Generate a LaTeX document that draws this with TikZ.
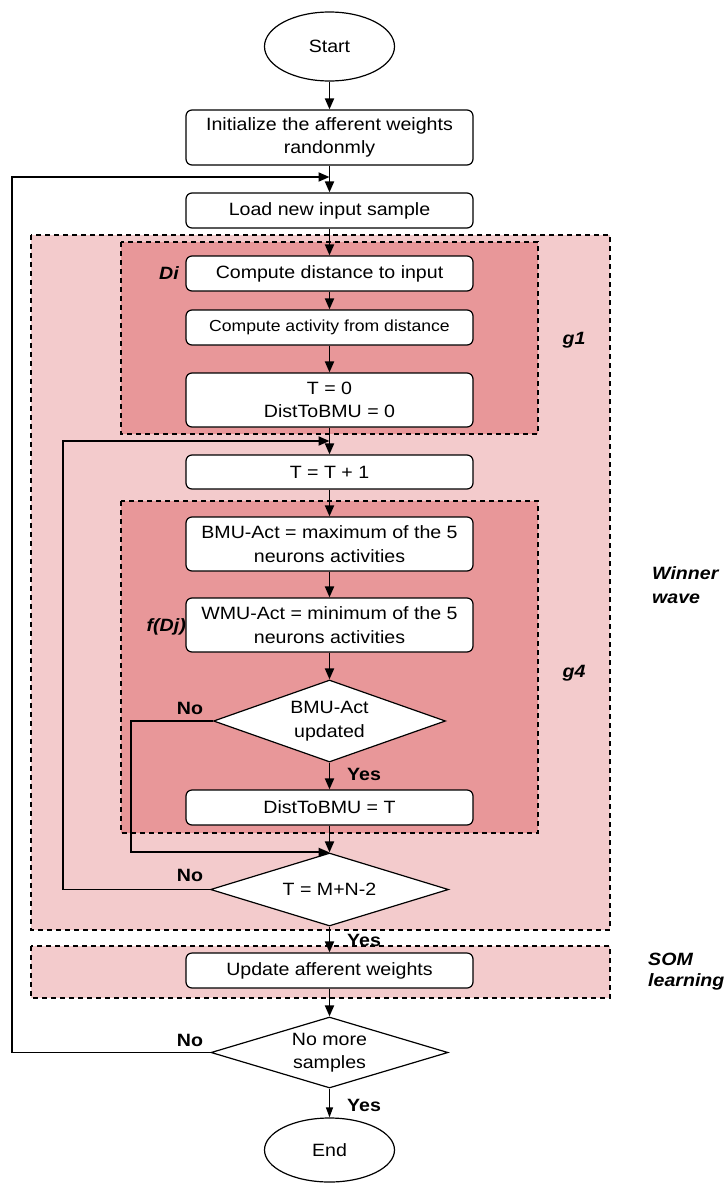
\documentclass[tikz,border=0pt]{standalone}
\usepackage{fontspec}
\setmainfont{Liberation Sans}[FakeStretch=1.1]
\usetikzlibrary{shapes.geometric,arrows.meta}
\definecolor{outerpink}{RGB}{243,203,204}
\definecolor{innerpink}{RGB}{232,151,153}
\tikzset{
  base/.style={font=\fontsize{17.8}{23.5}\selectfont, align=center},
  box/.style={base, draw, fill=white, rounded corners=6pt, line width=1.2pt,
    minimum width=287pt, inner sep=0pt},
  decision/.style={base, draw, fill=white, diamond, line width=1.2pt, inner sep=0pt},
  terminal/.style={base, draw, fill=white, ellipse, line width=1.2pt, inner sep=0pt},
  region/.style={dashed, line width=1.2pt, dash pattern=on 5pt off 4pt},
  arr/.style={line width=1.9pt, -{Triangle[length=11pt,width=9pt]}},
  thinarr/.style={line width=1.2pt, -{Triangle[length=10pt,width=7pt]}},
  lbl/.style={font=\fontsize{17.8}{23.5}\selectfont\bfseries\itshape, align=left, inner sep=0pt},
  yn/.style={font=\fontsize{17.8}{23.5}\selectfont\bfseries, inner sep=0pt},
}
\begin{document}
\begin{tikzpicture}[x=1pt, y=-1pt]
\useasboundingbox (0,0) rectangle (726,1183);
% regions
\draw[region, fill=outerpink] (31,235) rectangle (610,930);
\draw[region, fill=innerpink] (121,242) rectangle (538,434);
\draw[region, fill=innerpink] (121,501) rectangle (538,833);
\draw[region, fill=outerpink] (31,946) rectangle (610,998);

% nodes
\node[terminal, minimum width=130pt, minimum height=69pt] (start) at (329.5,46.5) {Start};
\node[box, minimum height=55pt] (init) at (329.5,137.5) {Initialize the afferent weights\\randonmly};
\node[box, minimum height=35pt] (load) at (329.5,210.5) {Load new input sample};
\node[box, minimum height=35pt] (cd) at (329.5,273.5) {Compute distance to input};
\node[box, minimum height=35pt, font=\fontsize{16}{20}\selectfont] (ca) at (329.5,327.5) {Compute activity from distance};
\node[box, minimum height=54pt] (t0) at (329.5,400) {T = 0\\DistToBMU = 0};
\node[box, minimum height=34pt] (tt) at (329.5,472) {T = T + 1};
\node[box, minimum height=54pt] (bmu) at (329.5,544) {BMU-Act = maximum of the 5\\neurons activities};
\node[box, minimum height=54pt] (wmu) at (329.5,625) {WMU-Act = minimum of the 5\\neurons activities};
\node[decision, shape aspect=2.83, minimum width=232pt, minimum height=82pt] (d1) at (329.5,721) {BMU-Act\\updated};
\node[box, minimum height=35pt] (db) at (329.5,807.5) {DistToBMU = T};
\node[decision, shape aspect=3.26, minimum width=238pt, minimum height=73pt] (d2) at (329.5,889.5) {T = M+N-2};
\node[box, minimum height=35pt] (upd) at (329.5,970.5) {Update afferent weights};
\node[decision, shape aspect=3.34, minimum width=237pt, minimum height=71pt] (d3) at (329.5,1052.5) {No more\\samples};
\node[terminal, minimum width=130pt, minimum height=64pt] (end) at (329.5,1150) {End};

% side labels
\node[lbl, anchor=east] (di) at (179,273) {Di};
\node[lbl, anchor=east] (fdj) at (186,627) {f(Dj)};
\node[lbl] (g1) at (574,340) {g1};
\node[lbl] (g4) at (574,673) {g4};
\node[lbl, anchor=west, font=\fontsize{17.8}{24}\selectfont\bfseries\itshape] (ww) at (652,585) {Winner\\wave};
\node[lbl, anchor=west, font=\fontsize{17.8}{21}\selectfont\bfseries\itshape] (som) at (648,972) {SOM\\learning};

% junction coordinates
\coordinate (j1) at (329.5,177);
\coordinate (j2) at (329.5,441);
\coordinate (l1x) at (12,0);
\coordinate (l2x) at (63,0);
\coordinate (l3x) at (131,0);

% connectors
\draw[arr] (start) -- (init);
\draw[arr] (init) -- (load);
\draw[arr] (load) -- (cd);
\draw[arr] (cd) -- (ca);
\draw[arr] (ca) -- (t0);
\draw[arr] (t0) -- (tt);
\draw[arr] (tt) -- (bmu);
\draw[arr] (bmu) -- (wmu);
\draw[arr] (wmu) -- (d1);
\draw[arr] (d1) -- (db);
\draw[arr] (db) -- (d2);
\draw[arr] (d2) -- (upd);
\draw[arr] (upd) -- (d3);
\draw[thinarr] (d3) -- (end);

\draw[arr] (d1.west) -- (d1.west -| l3x) |- (d2.north);
\draw[arr] (d2.west) -- (d2.west -| l2x) |- (j2);
\draw[arr] (d3.west) -- (d3.west -| l1x) |- (j1);

\node[yn, anchor=west] (yes1) at (347,774) {Yes};
\node[yn, anchor=west] (yes2) at (347,940) {Yes};
\node[yn, anchor=west] (yes3) at (347,1105) {Yes};
\node[yn] (no1) at (190,708) {No};
\node[yn] (no2) at (190,875) {No};
\node[yn] (no3) at (190,1040) {No};
\end{tikzpicture}
\end{document}
